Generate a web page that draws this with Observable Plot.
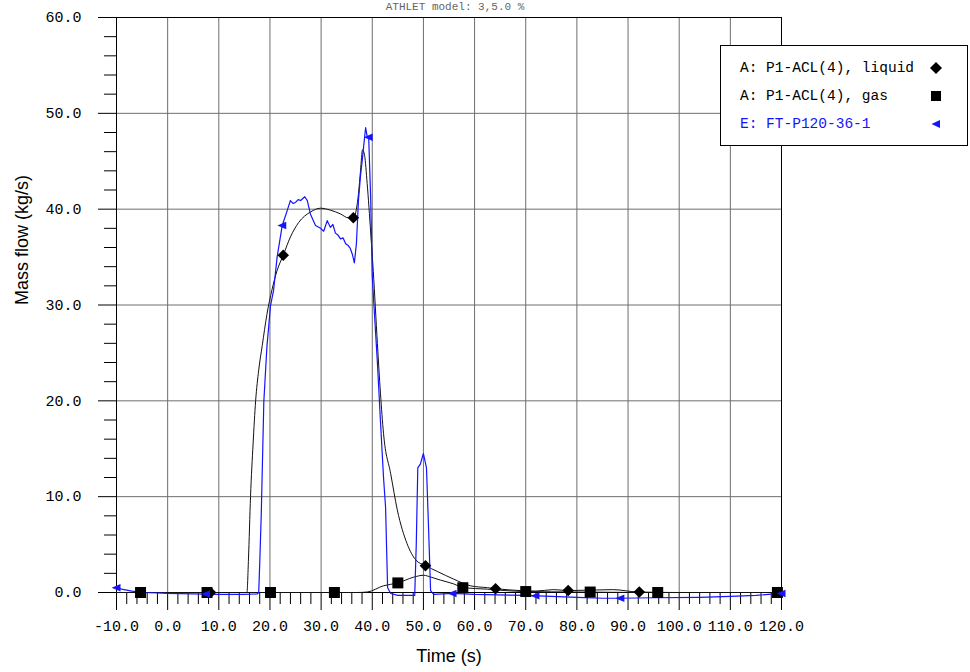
<!DOCTYPE html>
<html>
<head>
<meta charset="utf-8">
<script src="https://cdn.jsdelivr.net/npm/d3@7"></script>
<script src="https://cdn.jsdelivr.net/npm/@observablehq/plot@0.6"></script>
<style>
  body { margin: 0; background: #fff; }
  #wrap { position: relative; width: 970px; height: 672px; overflow: hidden; background: #fff; }
  #title { position: absolute; left: 255px; width: 400px; top: 1px; text-align: center; font: 11px/12px "Liberation Mono", "DejaVu Sans Mono", monospace; color: #666; white-space: pre; }
  #legend { position: absolute; left: 720px; top: 45px; width: 248px; height: 101px; box-sizing: border-box;
            border: 1px solid #000; background: #fff; font: 14.5px "Liberation Mono", "DejaVu Sans Mono", monospace; color: #000; }
  .row { position: absolute; left: 19px; height: 20px; line-height: 20px; white-space: pre; }
  .mk { position: absolute; left: 208px; width: 14px; height: 14px; }
</style>
</head>
<body>
<div id="wrap">
  <div id="chart"></div>
  <div id="title"></div>
  <div id="legend"></div>
</div>
<script>
// ---------- data ----------
const titleText = "ATHLET model: 3,5.0 %";
const xLabel = "Time (s)";
const yLabel = "Mass flow (kg/s)";

const xTicks = [-10, 0, 10, 20, 30, 40, 50, 60, 70, 80, 90, 100, 110, 120];
const yTicks = [0, 10, 20, 30, 40, 50, 60];
const xGrid = [0, 10, 20, 30, 40, 50, 60, 70, 80, 90, 100, 110];
const yGrid = [10, 20, 30, 40, 50];

const seriesNames = ["A: P1-ACL(4), liquid", "A: P1-ACL(4), gas", "E: FT-P120-36-1"];

// A: liquid
const liqT = [-10, 0, 10, 15.5, 15.8, 16.2, 16.7, 17.2, 17.8, 18.5, 19.4, 20.4, 21.4, 22.6, 24.0, 25.6, 27.9, 29.9,
              31.8, 33.8, 35.3, 36.3, 36.9, 37.3, 37.7, 38.1, 38.5, 39.0, 39.7, 40.2, 41.0, 41.6, 42.2, 43.6, 44.9,
              46.8, 48.5, 50.4, 52.7, 55.9, 59.2, 62.5, 64.1, 69.0, 72.0, 75.4, 78.4, 87.0, 92.0, 100, 120];
const liqV = [0, 0, 0, 0, 3.5, 10, 15.5, 20, 23.2, 25.8, 29.0, 31.6, 33.6, 35.2, 37.1, 38.6, 39.7, 40.1,
              39.9, 39.5, 39.1, 39.1, 40.0, 41.6, 44.0, 46.2, 45.6, 42.7, 37.5, 33.5, 26.0, 20.8, 16.6, 12.4, 8.6,
              5.1, 3.4, 2.8, 2.2, 1.4, 0.7, 0.5, 0.4, 0.2, 0.15, 0.3, 0.2, 0.3, 0.05, 0, 0];

// A: gas
const gasT = [-10, 0, 20, 37.0, 39.0, 42.2, 45.0, 48.1, 50.0, 51.5, 53.3, 55.9, 57.8, 62.5, 66.0, 70.0, 80.0, 95.0, 120];
const gasV = [0, 0, 0, 0, 0.05, 0.7, 1.0, 1.6, 1.8, 1.6, 1.3, 0.9, 0.5, 0.35, 0.2, 0.1, 0.05, 0, 0];

// E: experiment FT-P120-36-1
const expT = [-10, -9, -7, -5, -2, 0, 5, 10, 15, 17.5, 17.8, 18.0, 18.3, 18.8, 19.4, 20.1, 20.7, 21.4, 22.4, 23.4,
              24.0, 24.5, 25.0, 25.5, 26.0, 26.8, 27.3, 27.9, 28.9, 29.9, 30.5, 31.2, 31.8, 32.3, 32.8, 33.3, 33.8,
              34.3, 34.8, 35.3, 35.7, 36.1, 36.5, 36.9, 37.3, 37.7, 38.1, 38.5, 38.7, 39.0, 39.3, 39.7, 40.0, 40.3,
              41.0, 41.6, 42.2, 42.6, 43.0, 43.6, 45.0, 48.3, 48.6, 48.9, 49.4, 50.0, 50.6, 51.0, 51.4, 52.0, 55.7,
              60, 70, 75, 80, 85, 88.5, 95, 104, 110, 115, 120];
const expV = [0.5, 0.35, 0.15, 0.0, -0.05, -0.1, -0.15, -0.2, -0.2, -0.15, 0, 3, 8.2, 19.9, 25.6, 29.9, 31.5, 35.0, 38.3, 39.9,
              40.9, 40.6, 40.7, 41.0, 40.9, 41.3, 40.9, 39.5, 38.3, 38.0, 37.7, 38.8, 38.1, 38.4, 37.5, 37.3, 36.9,
              37.0, 36.4, 36.2, 35.9, 35.3, 34.4, 36.4, 40.9, 43.5, 45.4, 47.5, 48.5, 47.6, 47.5, 40.9, 33.0, 30.2,
              24.0, 17.9, 12.0, 8.9, 0.5, -0.1, -0.3, -0.3, 5, 13.0, 13.4, 14.5, 13.0, 6.8, 0.2, -0.2, -0.1,
              -0.2, -0.3, -0.4, -0.5, -0.6, -0.6, -0.55, -0.5, -0.4, -0.3, -0.1];

// marker positions
const liqMarkT = [8.4, 22.6, 36.3, 50.4, 64.1, 78.3, 92.2, 119.4];
const liqMarkV = [0, 35.2, 39.1, 2.8, 0.4, 0.2, 0.05, 0];
const gasMarkT = [-5.3, 7.7, 20.1, 32.6, 45.0, 57.7, 70.0, 82.6, 95.8, 119.2];
const gasMarkV = [0, 0, 0, 0, 1.0, 0.5, 0.1, 0.05, 0, 0];
const expMarkT = [-10, 7.5, 22.4, 39.3, 55.7, 71.9, 88.5, 120];
const expMarkV = [0.5, -0.15, 38.3, 47.5, -0.1, -0.35, -0.6, -0.1];

// ---------- build ----------
const BLUE = "#1414ff";
const zip = (ts, vs) => ts.map((t, i) => ({t, v: vs[i]}));
const minorX = d3.range(-10, 121, 2).filter(d => d % 10 !== 0);
const minorY = d3.range(0, 61, 2).filter(d => d % 10 !== 0);
const fmt = d => d.toFixed(1);

const triLeft = {
  draw(ctx, size) {
    const s = Math.sqrt(size);
    ctx.moveTo(-0.55 * s, 0);
    ctx.lineTo(0.45 * s, -0.42 * s);
    ctx.lineTo(0.45 * s, 0.42 * s);
    ctx.closePath();
  }
};

const chart = Plot.plot({
  width: 970,
  height: 672,
  marginTop: 17,
  marginBottom: 80,
  marginLeft: 116,
  marginRight: 189,
  style: {fontFamily: '"Liberation Mono", "DejaVu Sans Mono", monospace', fontSize: "15px", background: "white", color: "black"},
  x: {domain: [-10, 120]},
  y: {domain: [0, 60]},
  marks: [
    Plot.ruleX(xGrid, {stroke: "#6e6e6e", strokeWidth: 1}),
    Plot.ruleY(yGrid, {stroke: "#6e6e6e", strokeWidth: 1}),
    Plot.frame({stroke: "black", strokeWidth: 1}),
    Plot.axisX({ticks: xTicks, tickSize: 18, tickPadding: 10, tickFormat: fmt, label: null, stroke: "black"}),
    Plot.axisX({ticks: minorX, tickSize: 12, tickFormat: () => "", label: null, stroke: "black"}),
    Plot.axisY({ticks: yTicks, tickSize: 18, tickPadding: 17, tickFormat: fmt, label: null, stroke: "black"}),
    Plot.axisY({ticks: minorY, tickSize: 12, tickFormat: () => "", label: null, stroke: "black"}),
    Plot.text([xLabel], {frameAnchor: "bottom", dy: 69, text: d => d, fontFamily: '"Liberation Sans", Arial, sans-serif', fontSize: 18, fill: "black"}),
    Plot.text([yLabel], {frameAnchor: "left", dx: -94, rotate: -90, text: d => d, fontFamily: '"Liberation Sans", Arial, sans-serif', fontSize: 18, fill: "black"}),
    Plot.line(zip(gasT, gasV), {x: "t", y: "v", stroke: "#111", strokeWidth: 1, curve: "monotone-x"}),
    Plot.line(zip(liqT, liqV), {x: "t", y: "v", stroke: "#111", strokeWidth: 1, curve: "monotone-x"}),
    Plot.line(zip(expT, expV), {x: "t", y: "v", stroke: BLUE, strokeWidth: 1.2}),
    Plot.dot(zip(gasMarkT, gasMarkV), {x: "t", y: "v", symbol: "square", r: 6.2, fill: "black"}),
    Plot.dot(zip(liqMarkT, liqMarkV), {x: "t", y: "v", symbol: "diamond2", r: 5.2, fill: "black"}),
    Plot.dot(zip(expMarkT, expMarkV), {x: "t", y: "v", symbol: triLeft, r: 5, fill: BLUE})
  ]
});
document.getElementById("chart").append(chart);

document.getElementById("title").textContent = titleText;

// legend
const legend = document.getElementById("legend");
const legendColors = ["#000", "#000", BLUE];
const legendShapes = [
  '<path d="M7 1 L13 7 L7 13 L1 7 Z" fill="#000"/>',
  '<rect x="2" y="2" width="10" height="10" fill="#000"/>',
  '<path d="M2.5 7 L11 3 L11 11 Z" fill="' + BLUE + '"/>'
];
seriesNames.forEach((name, i) => {
  const top = 12 + i * 28;
  const row = document.createElement("div");
  row.className = "row";
  row.style.top = top + "px";
  row.style.color = legendColors[i];
  row.textContent = name;
  legend.append(row);
  const mk = document.createElement("div");
  mk.className = "mk";
  mk.style.top = (top + 3) + "px";
  mk.innerHTML = '<svg width="14" height="14" viewBox="0 0 14 14">' + legendShapes[i] + '</svg>';
  legend.append(mk);
});
</script>
</body>
</html>
